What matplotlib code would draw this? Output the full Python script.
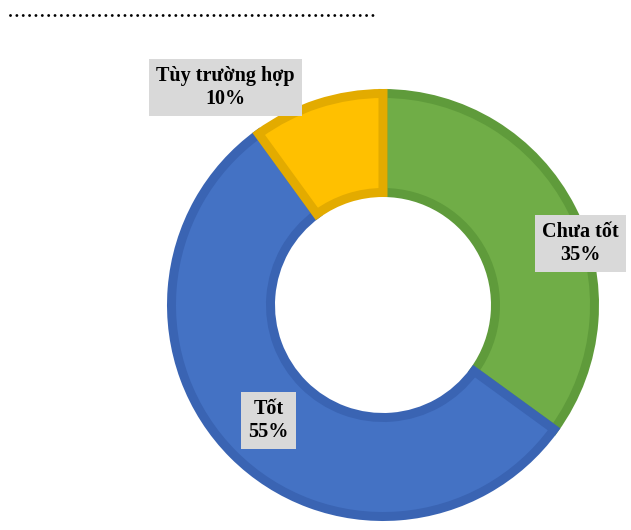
import matplotlib.pyplot as plt
from matplotlib.lines import Line2D

# survey answers, clockwise from 12 o'clock
categories = ["Chưa tốt", "Tốt", "Tùy trường hợp"]
shares = [35, 55, 10]

colors = ["#70AD47", "#4472C4", "#FFC000"]
edge_colors = ["#5F9B3B", "#3A64B3", "#E3AB00"]
# hand-placed label centres (pie radius units)
label_xy = [(0.915, 0.286), (-0.53, -0.535), (-0.728, 1.005)]

fig = plt.figure(figsize=(6.31, 5.30), dpi=100)
ax = fig.add_axes([0, 0, 1, 1])

px = 216.0  # pixels per radius unit
cx, cy = 383, 225
edge_px = 9
half = edge_px / 2 / px  # outline sits inside the ring

wedges, _ = ax.pie(
    shares,
    colors=colors,
    startangle=90,
    counterclock=False,
    radius=1.0 - half,
    wedgeprops=dict(width=0.5 - 2 * half, linewidth=edge_px * 72 / 100),
)
for w, ec in zip(wedges, edge_colors):
    w.set_edgecolor(ec)

ax.set_xlim(-cx / px, (631 - cx) / px)
ax.set_ylim(-cy / px, (530 - cy) / px)
ax.set_aspect("auto")
ax.axis("off")

for name, val, (x, y) in zip(categories, shares, label_xy):
    ax.text(
        x, y, f"{name}\n{val}%",
        ha="center", va="center",
        family="Liberation Serif", fontweight="bold", fontsize=14.5,
        linespacing=1.2,
        bbox=dict(boxstyle="square,pad=0.35", facecolor="#D9D9D9", edgecolor="none"),
    )

# dotted rule at the top
fig.add_artist(Line2D(
    [10 / 631, 377 / 631], [515 / 530, 515 / 530],
    transform=fig.transFigure, color="black", linewidth=2.1,
    linestyle=(0, (0.01, 2.17)), dash_capstyle="round",
))

fig.savefig("out.png", dpi=100)
